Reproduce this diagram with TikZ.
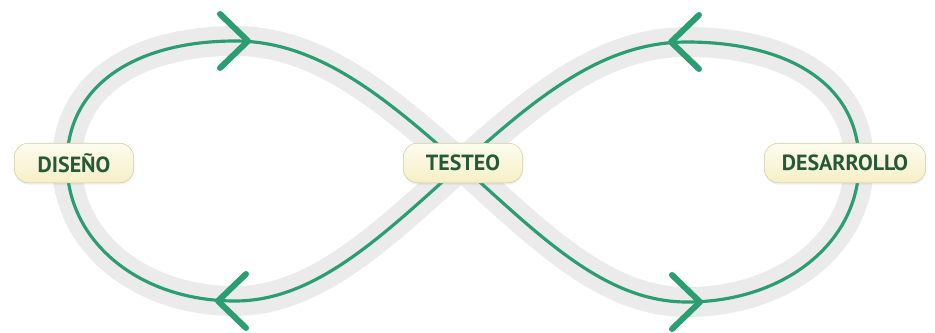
\documentclass[tikz,border=0pt]{standalone}
\usepackage{fontspec}
\setmainfont{PT Sans}
\usetikzlibrary{shadows}

\definecolor{loopgreen}{RGB}{42,158,112}
\definecolor{bandgray}{RGB}{235,235,235}
\definecolor{labelgreen}{RGB}{38,88,58}
\definecolor{creamtop}{RGB}{253,252,238}
\definecolor{creambottom}{RGB}{246,239,198}

\begin{document}
\begin{tikzpicture}[x=0.02cm,y=0.02cm]
  \tikzset{
    stage node/.style={rounded corners=8pt, top color=creamtop, bottom color=creambottom,
      draw=creambottom!85!black, line width=0.3pt, text=labelgreen,
      font=\bfseries\fontsize{12.5}{14}\selectfont, minimum height=22.5pt,
      minimum width=68pt, inner xsep=10pt,
      drop shadow={opacity=0.12, shadow xshift=0pt, shadow yshift=-1pt}},
    band/.style={draw=bandgray, line width=17pt},
    loop line/.style={draw=loopgreen, line width=1.8pt},
    chevron/.style={draw=loopgreen, line width=3.4pt, line cap=round, line join=round}
  }
  \useasboundingbox (0,0) rectangle (935,332);

  % points of the figure eight
  \coordinate (mid) at (461,167);
  \coordinate (left) at (67,169);
  \coordinate (right) at (859,169);
  \coordinate (tl) at (235,291);
  \coordinate (bl) at (235,31);
  \coordinate (tr) at (687,290);
  \coordinate (br) at (687,30);

  % gray band first, then the green line on top
  \foreach \st in {band, loop line}
    \draw[\st] (mid) .. controls (541,95) and (605,30) .. (br)
      .. controls (785,30) and (859,90) .. (right)
      .. controls (859,250) and (785,290) .. (tr)
      .. controls (605,290) and (541,239) .. (mid)
      .. controls (381,95) and (315,31) .. (bl)
      .. controls (140,31) and (67,90) .. (left)
      .. controls (67,250) and (140,291) .. (tl)
      .. controls (315,291) and (381,239) .. (mid);

  % arrow heads
  \draw[chevron] (220,318) -- (248,291) -- (220,264);
  \draw[chevron] (246,58) -- (218,31) -- (246,4);
  \draw[chevron] (699,317) -- (671,290) -- (699,263);
  \draw[chevron] (672,57) -- (700,30) -- (672,3);

  % stages
  \node[stage node] (diseno) at (74,169) {DISEÑO};
  \node[stage node] (testeo) at (463,169) {TESTEO};
  \node[stage node] (desarrollo) at (845,169) {DESARROLLO};
\end{tikzpicture}
\end{document}
